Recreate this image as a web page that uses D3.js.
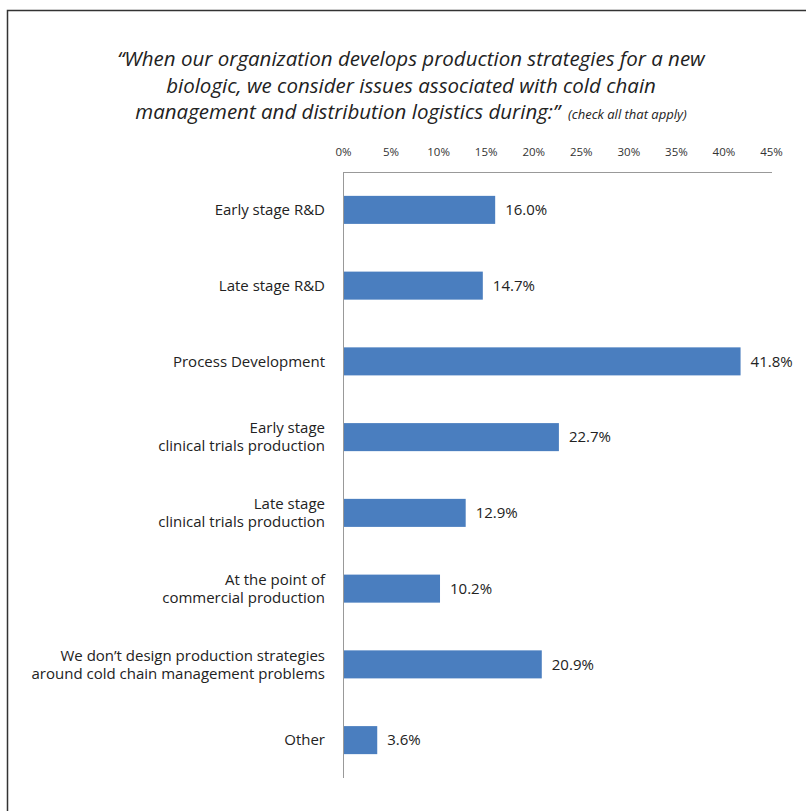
<!DOCTYPE html>
<html>
<head>
<meta charset="utf-8">
<script src="https://cdn.jsdelivr.net/npm/d3@7"></script>
<style>
  body { margin: 0; background: #fff; }
  svg { font-family: "Open Sans", "Noto Sans", sans-serif; }
</style>
</head>
<body>
<div class="chart"></div>
<script>
// chart data
var categories = [
  ["Early stage R&D"],
  ["Late stage R&D"],
  ["Process Development"],
  ["Early stage", "clinical trials production"],
  ["Late stage", "clinical trials production"],
  ["At the point of", "commercial production"],
  ["We don\u2019t design production strategies", "around cold chain management problems"],
  ["Other"]
];
var values = [16.0, 14.7, 41.8, 22.7, 12.9, 10.2, 20.9, 3.6];
var tickValues = [0, 5, 10, 15, 20, 25, 30, 35, 40, 45];
var titleLines = [
  "\u201cWhen our organization develops production strategies for a new",
  "biologic, we consider issues associated with cold chain",
  "management and distribution logistics during:\u201d"
];
var titleNote = "(check all that apply)";

var svgWidth = 806;
var svgHeight = 811;
var margin = { top: 172, right: 35, bottom: 33, left: 343 };
var width = svgWidth - margin.left - margin.right;
var height = svgHeight - margin.top - margin.bottom;

var svg = d3.select(".chart")
  .append("svg")
  .attr("width", svgWidth)
  .attr("height", svgHeight);

// frame (left + top)
svg.append("path")
  .attr("d", "M7.5," + svgHeight + "V10.5H" + svgWidth)
  .attr("fill", "none")
  .attr("stroke", "#333")
  .attr("stroke-width", 1.5);

// title
var title = svg.append("text")
  .attr("text-anchor", "middle")
  .attr("font-style", "italic")
  .attr("font-size", "20.5px")
  .attr("fill", "#222");
titleLines.forEach(function(line, i) {
  var t = title.append("tspan")
    .attr("x", 411)
    .attr("y", 66 + i * 26.5)
    .text(line);
  if (i === titleLines.length - 1) {
    t.append("tspan").attr("font-size", "13px").attr("dx", 8).text(titleNote);
  }
});

var chartGroup = svg.append("g")
  .attr("transform", `translate(${margin.left}, ${margin.top})`);

var xScale = d3.scaleLinear().domain([0, 45]).range([0, 428]);
var yScale = d3.scaleBand()
  .domain(d3.range(categories.length))
  .range([0, height])
  .paddingInner(0.63)
  .paddingOuter(0.315);

// top axis
var topAxis = d3.axisTop(xScale)
  .tickValues(tickValues)
  .tickFormat(d => d + "%")
  .tickSize(0)
  .tickPadding(16);
var xAxis = chartGroup.append("g").call(topAxis);
xAxis.select(".domain").remove();
xAxis.selectAll("text")
  .attr("font-family", "'Open Sans', 'Noto Sans', sans-serif")
  .attr("font-size", "11.5px")
  .attr("fill", "#333");

chartGroup.append("line")
  .attr("x1", 0).attr("x2", xScale(45) + 1)
  .attr("y1", 0.5).attr("y2", 0.5)
  .attr("stroke", "#999");
chartGroup.append("line")
  .attr("x1", 0.5).attr("x2", 0.5)
  .attr("y1", 0).attr("y2", height)
  .attr("stroke", "#999");

// bars
chartGroup.selectAll("rect.bar")
  .data(values)
  .enter()
  .append("rect")
  .attr("class", "bar")
  .attr("x", 1)
  .attr("y", (d, i) => yScale(i))
  .attr("width", d => xScale(d) - 1)
  .attr("height", yScale.bandwidth())
  .attr("fill", "#4a7ebf");

// value labels
chartGroup.selectAll("text.value")
  .data(values)
  .enter()
  .append("text")
  .attr("class", "value")
  .attr("x", d => xScale(d) + 10)
  .attr("y", (d, i) => yScale(i) + yScale.bandwidth() / 2)
  .attr("dy", "0.35em")
  .attr("font-size", "15px")
  .attr("fill", "#222")
  .text(d => d.toFixed(1) + "%");

// category labels
var catLabels = chartGroup.selectAll("text.cat")
  .data(categories)
  .enter()
  .append("text")
  .attr("class", "cat")
  .attr("text-anchor", "end")
  .attr("font-size", "15px")
  .attr("fill", "#222");
catLabels.each(function(lines, i) {
  var cy = yScale(i) + yScale.bandwidth() / 2;
  var el = d3.select(this);
  lines.forEach(function(line, j) {
    el.append("tspan")
      .attr("x", -18)
      .attr("y", cy + (j - (lines.length - 1) / 2) * 18)
      .attr("dy", "0.35em")
      .text(line);
  });
});
</script>
</body>
</html>
